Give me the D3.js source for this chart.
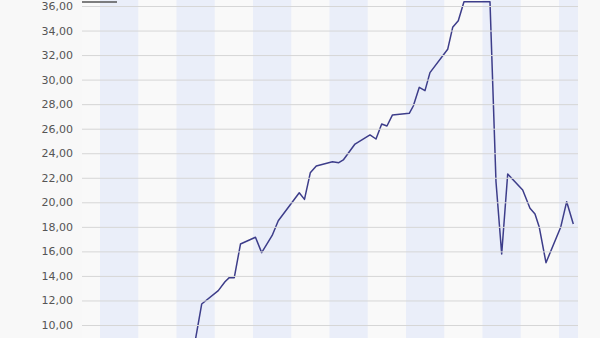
<!DOCTYPE html>
<html>
<head>
<meta charset="utf-8">
<script src="https://cdn.jsdelivr.net/npm/d3@7"></script>
<style>
  html, body { margin: 0; padding: 0; background: #f8f8f8; }
  svg { display: block; }
</style>
</head>
<body>
<svg id="chart" width="600" height="338"></svg>
<script>
// Time position in months from the first shaded band; price values
const months = [2.444, 2.659, 3.093, 3.268, 3.380, 3.511, 3.673, 4.065, 4.227, 4.502,
  4.661, 5.210, 5.346, 5.498, 5.655, 6.078, 6.243, 6.361, 6.667, 7.059,
  7.216, 7.365, 7.503, 7.647, 8.086, 8.191, 8.348, 8.497, 8.627, 9.090,
  9.221, 9.367, 9.516, 10.196, 10.353, 10.502, 10.659, 11.051, 11.242, 11.373,
  11.485, 11.660, 12.044, 12.201, 12.374];
const prices = [7.9, 11.71, 12.8, 13.53, 13.86, 13.86, 16.6, 17.15, 15.9, 17.3,
  18.5, 20.78, 20.24, 22.4, 22.96, 23.3, 23.23, 23.45, 24.75, 25.49,
  25.16, 26.38, 26.22, 27.12, 27.25, 27.85, 29.37, 29.1, 30.57, 32.47,
  34.26, 34.8, 36.35, 36.35, 21.68, 15.79, 22.31, 21.0, 19.51, 19.05,
  17.96, 15.08, 17.96, 20.05, 18.23];
const bandStarts = [0, 2, 4, 6, 8, 10, 12];
const yTicks = [10, 12, 14, 16, 18, 20, 22, 24, 26, 28, 30, 32, 34, 36];

const svg = d3.select("#chart");
const left = 82, right = 578;

const x = d3.scaleLinear().domain([-0.47, 12.497]).range([left, right]);
const y = d3.scaleLinear().domain([10, 36]).range([325, 6]);

const locale = d3.formatLocale({decimal: ",", thousands: ".", grouping: [3], currency: ["", " €"]});
const fmt = locale.format(".2f");

// plot background
svg.append("rect").attr("x", left).attr("y", 0).attr("width", right - left).attr("height", 338)
  .attr("fill", "#f9f9f9");

// clip
svg.append("clipPath").attr("id", "plotclip").append("rect")
  .attr("x", left).attr("y", 0).attr("width", right - left).attr("height", 338);

const plot = svg.append("g").attr("clip-path", "url(#plotclip)");

// alternating month bands
plot.selectAll("rect.band").data(bandStarts).join("rect")
  .attr("class", "band")
  .attr("x", d => x(d))
  .attr("y", 0)
  .attr("width", d => x(d + 1) - x(d))
  .attr("height", 338)
  .attr("fill", "#eaeef9");

// y axis with grid
const yAxis = d3.axisLeft(y).tickValues(yTicks).tickFormat(fmt)
  .tickSize(-(right - left)).tickPadding(9);
const ga = svg.append("g").attr("transform", `translate(${left},0)`).call(yAxis);
ga.select(".domain").remove();
ga.selectAll(".tick line").attr("stroke", "#d6d6d6").attr("stroke-width", 1);
ga.selectAll(".tick text")
  .attr("fill", "#555")
  .style("font-family", "'DejaVu Sans', Verdana, sans-serif")
  .style("font-size", "11px");

// price line
const pts = months.map((m, i) => [m, prices[i]]);
const line = d3.line().x(d => x(d[0])).y(d => y(d[1]));
plot.append("path").datum(pts)
  .attr("d", line)
  .attr("fill", "none")
  .attr("stroke", "#3d3d8a")
  .attr("stroke-width", 1.5)
  .attr("stroke-linejoin", "round");

// legend key line (top-left)
svg.append("line")
  .attr("x1", left).attr("x2", left + 35)
  .attr("y1", 2).attr("y2", 2)
  .attr("stroke", "#555").attr("stroke-width", 1.5);
</script>
</body>
</html>
